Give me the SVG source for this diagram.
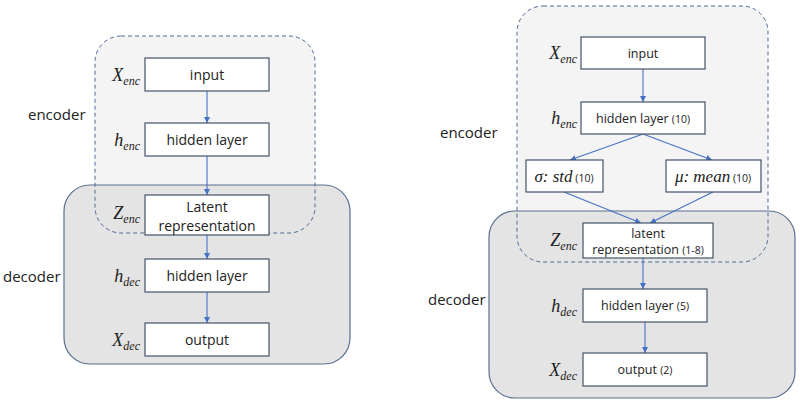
<svg xmlns="http://www.w3.org/2000/svg" width="800" height="410" viewBox="0 0 800 410">
<style>
.enc{fill:#f4f4f5;stroke:none}
.encb{fill:none;stroke:#4e6a95;stroke-width:1;stroke-dasharray:4 3}
.dec{fill:#e4e4e4;stroke:#5a6f90;stroke-width:1.2}
.box{fill:#ffffff;stroke:#44546a;stroke-width:1.2}
.t{font-family:"Open Sans","Liberation Sans",sans-serif;font-size:14px;fill:#222;text-anchor:middle}
.tr{font-family:"Open Sans","Liberation Sans",sans-serif;font-size:12.5px;fill:#222;text-anchor:middle}
.sm{font-size:10.5px}
.lab{font-family:"Open Sans","Liberation Sans",sans-serif;font-size:15px;fill:#222}
.m{font-family:"Liberation Serif","DejaVu Serif",serif;font-style:italic;font-size:18px;fill:#222;text-anchor:end}
.mi{font-family:"Liberation Serif","DejaVu Serif",serif;font-style:italic;font-size:17px;fill:#222}
.sub{font-size:12px}
.c{fill:none;stroke:#4472c4;stroke-width:1.1;marker-end:url(#ah)}
</style>
<defs>
<marker id="ah" viewBox="0 0 10 10" refX="10" refY="5" markerWidth="6" markerHeight="6" orient="auto" markerUnits="userSpaceOnUse">
<path d="M0,0 L10,5 L0,10 z" fill="#4472c4"/>
</marker>
</defs>

<!-- Left diagram regions -->
<g id="left-regions">
<rect class="enc" x="95" y="36" width="220" height="197" rx="26"/>
<rect class="dec" x="64" y="185" width="286" height="179" rx="26"/>
<rect class="encb" x="95" y="36" width="220" height="197" rx="26"/>
<text class="lab" x="28" y="120">encoder</text>
<text class="lab" x="3" y="282">decoder</text>
</g>

<!-- Right diagram regions -->
<g id="right-regions">
<rect class="enc" x="517" y="6" width="251" height="256" rx="26"/>
<rect class="dec" x="489" y="211" width="306" height="187" rx="26"/>
<rect class="encb" x="517" y="6" width="251" height="256" rx="26"/>
<text class="lab" x="440" y="138">encoder</text>
<text class="lab" x="428" y="305">decoder</text>
</g>

<g id="connectors">
<line class="c" x1="207" y1="91" x2="207" y2="123"/>
<line class="c" x1="207" y1="156" x2="207" y2="195"/>
<line class="c" x1="207" y1="235" x2="207" y2="259"/>
<line class="c" x1="207" y1="292" x2="207" y2="323"/>
<line class="c" x1="643" y1="69" x2="643" y2="102"/>
<line class="c" x1="643" y1="134" x2="570" y2="160"/>
<line class="c" x1="643" y1="134" x2="712" y2="160"/>
<line class="c" x1="564" y1="192" x2="641" y2="223"/>
<line class="c" x1="713" y1="192" x2="650" y2="223"/>
<line class="c" x1="643" y1="258" x2="643" y2="289"/>
<line class="c" x1="645" y1="322" x2="645" y2="353"/>
</g>

<!-- Left nodes -->
<g id="l-input">
<rect class="box" x="145" y="58" width="124" height="33"/>
<text class="t" x="207" y="80">input</text>
<text class="m" x="140" y="81">X<tspan class="sub" dy="4">enc</tspan></text>
</g>
<g id="l-hidden">
<rect class="box" x="145" y="123" width="124" height="33"/>
<text class="t" x="207" y="145">hidden layer</text>
<text class="m" x="140" y="146">h<tspan class="sub" dy="4">enc</tspan></text>
</g>
<g id="l-latent">
<rect class="box" x="145" y="195" width="124" height="40"/>
<text class="t" x="207" y="212">Latent</text>
<text class="t" x="207" y="231">representation</text>
<text class="m" x="140" y="219">Z<tspan class="sub" dy="4">enc</tspan></text>
</g>
<g id="l-hdec">
<rect class="box" x="145" y="259" width="124" height="33"/>
<text class="t" x="207" y="281">hidden layer</text>
<text class="m" x="140" y="282">h<tspan class="sub" dy="4">dec</tspan></text>
</g>
<g id="l-output">
<rect class="box" x="145" y="323" width="124" height="33"/>
<text class="t" x="207" y="345">output</text>
<text class="m" x="140" y="346">X<tspan class="sub" dy="4">dec</tspan></text>
</g>

<!-- Right nodes -->
<g id="r-input">
<rect class="box" x="581" y="37" width="124" height="32"/>
<text class="tr" x="643" y="58">input</text>
<text class="m" x="577" y="59">X<tspan class="sub" dy="4">enc</tspan></text>
</g>
<g id="r-hidden">
<rect class="box" x="581" y="102" width="124" height="32"/>
<text class="tr" x="643" y="123">hidden layer <tspan class="sm">(10)</tspan></text>
<text class="m" x="577" y="124">h<tspan class="sub" dy="4">enc</tspan></text>
</g>
<g id="r-std">
<rect class="box" x="526" y="160" width="77" height="32"/>
<text x="564" y="182" text-anchor="middle"><tspan class="mi">σ: std</tspan><tspan class="tr sm"> (10)</tspan></text>
</g>
<g id="r-mean">
<rect class="box" x="666" y="160" width="95" height="32"/>
<text x="713" y="182" text-anchor="middle"><tspan class="mi">μ: mean</tspan><tspan class="tr sm"> (10)</tspan></text>
</g>
<g id="r-latent">
<rect class="box" x="583" y="223" width="130" height="35"/>
<text class="tr" x="648" y="238">latent</text>
<text class="tr" x="648" y="254">representation <tspan class="sm">(1-8)</tspan></text>
<text class="m" x="577" y="246">Z<tspan class="sub" dy="4">enc</tspan></text>
</g>
<g id="r-hdec">
<rect class="box" x="583" y="289" width="124" height="33"/>
<text class="tr" x="645" y="310">hidden layer <tspan class="sm">(5)</tspan></text>
<text class="m" x="577" y="312">h<tspan class="sub" dy="4">dec</tspan></text>
</g>
<g id="r-output">
<rect class="box" x="583" y="353" width="124" height="33"/>
<text class="tr" x="645" y="374">output <tspan class="sm">(2)</tspan></text>
<text class="m" x="577" y="376">X<tspan class="sub" dy="4">dec</tspan></text>
</g>
</svg>
